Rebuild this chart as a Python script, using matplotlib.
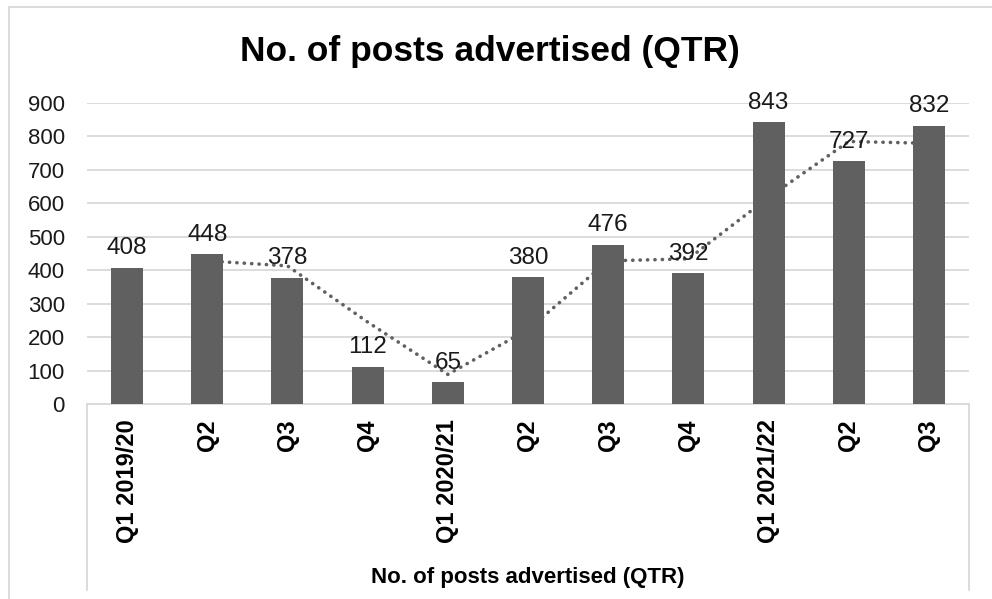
"""Bar chart of posts advertised per quarter with a moving-average trendline."""

import matplotlib.pyplot as plt
from matplotlib.lines import Line2D
from matplotlib.patches import Rectangle

plt.rcParams["font.family"] = ["Liberation Sans", "DejaVu Sans"]

quarters = ["Q1 2019/20", "Q2", "Q3", "Q4", "Q1 2020/21", "Q2", "Q3", "Q4",
            "Q1 2021/22", "Q2", "Q3"]
posts = [408, 448, 378, 112, 65, 380, 476, 392, 843, 727, 832]
# 2-period moving average trendline (starts at 2nd quarter)
trend_x = [1, 2, 3, 4, 5, 6, 7, 8, 9, 10]
trend = [428, 413, 245, 88.5, 222.5, 428, 434, 617.5, 785, 779.5]
yticks = [0, 100, 200, 300, 400, 500, 600, 700, 800, 900]

title = "No. of posts advertised (QTR)"
bar_color = "#606060"
grid_color = "#d9d9d9"

W, H = 992, 599
fig = plt.figure(figsize=(W / 100, H / 100), dpi=100)


def fx(px):
    return px / W


def fy(py):
    return 1 - py / H


# outer chart border (runs off the right and bottom edges)
fig.add_artist(Rectangle((fx(9), fy(620)), fx(1020) - fx(9), fy(7) - fy(620),
                         transform=fig.transFigure, fill=False,
                         edgecolor=grid_color, linewidth=1.3))

ax = fig.add_axes([fx(87), fy(404), fx(969) - fx(87), fy(103) - fy(404)])
x = list(range(len(posts)))
ax.bar(x, posts, width=0.4, color=bar_color, zorder=2)
ax.plot(trend_x, trend, color=bar_color, linestyle=(0, (0.05, 2.0)),
        linewidth=2.6, dash_capstyle="round", zorder=3)

for xi, v in zip(x, posts):
    ax.annotate(str(v), (xi, v), xytext=(0, 6), textcoords="offset points",
                ha="center", va="bottom", fontsize=17.5, color="#1a1a1a", zorder=4)

ax.set_xlim(-0.5, len(posts) - 0.5)
ax.set_ylim(0, 900)
ax.set_yticks(yticks)
ax.set_xticks(x)
ax.set_xticklabels(quarters, rotation=90, fontsize=17, fontweight="bold", va="top")
ax.tick_params(axis="y", length=0, pad=16, labelsize=16, labelcolor="#1a1a1a")
ax.tick_params(axis="x", length=0, pad=11)
ax.grid(axis="y", color=grid_color, linewidth=1.3, zorder=0)
ax.set_axisbelow(True)
for side in ["top", "right", "left"]:
    ax.spines[side].set_visible(False)
ax.spines["bottom"].set_color(grid_color)
ax.spines["bottom"].set_linewidth(1.3)
ax.spines["bottom"].set_zorder(1)

# category axis box sides
for px in (87, 969):
    fig.add_artist(Line2D([fx(px), fx(px)], [fy(404), fy(590)],
                          transform=fig.transFigure, color=grid_color, linewidth=1.3))

fig.text(fx(490), fy(52), title, ha="center", va="center", fontsize=25.5,
         fontweight="bold")
fig.text(fx(528), fy(577), title, ha="center", va="center", fontsize=16,
         fontweight="bold")

fig.savefig("out.png", dpi=100)
